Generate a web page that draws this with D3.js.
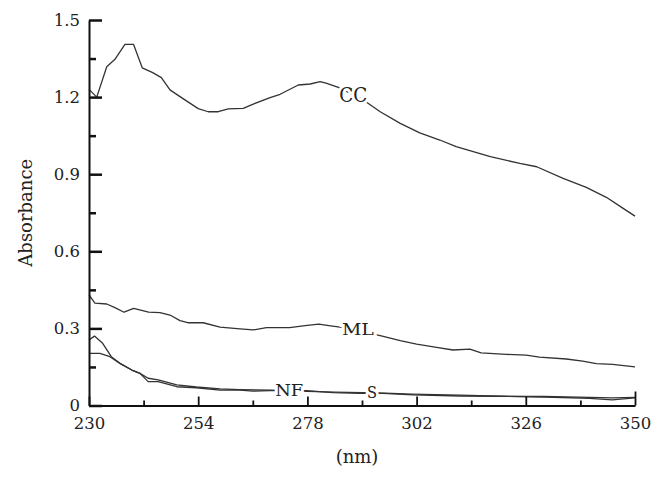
<!DOCTYPE html>
<html>
<head>
    <meta charset="utf-8">
    <title>Absorbance</title>
    <script src="https://d3js.org/d3.v7.min.js"></script>
    <style>
        body { margin: 0; background: #fff; }
        svg { display: block; }
        .axis text { font-family: "DejaVu Serif", serif; font-size: 16.5px; fill: #222; }
        .axis path, .axis line { stroke: #111; }
        .curve { fill: none; stroke: #333; stroke-width: 1.3px; stroke-linejoin: round; }
        .curve-label { font-family: "DejaVu Serif", serif; fill: #222; stroke: #fff; stroke-width: 6px; paint-order: stroke; }
        .axis-title { font-family: "DejaVu Serif", serif; font-size: 18px; fill: #222; }
    </style>
</head>
<body>
<div id="chart"></div>
<script>
    // values (nm, absorbance)
    const ccNm  = [230, 231.7, 233.9, 235.7, 237.9, 239.8, 241.7, 244, 245.9, 247.8, 250, 254, 256.2, 258.4, 260.6, 263.9, 266.1, 269.8, 272, 276, 278.6, 280.8, 282.1, 284.8, 290.3, 294, 298.4, 302.7, 307.1, 310.7, 318.2, 324.7, 328.4, 334.2, 339.3, 343.7, 347.4, 350];
    const ccAbs = [1.23, 1.2, 1.318, 1.347, 1.405, 1.405, 1.314, 1.295, 1.276, 1.228, 1.202, 1.155, 1.143, 1.143, 1.154, 1.156, 1.173, 1.198, 1.211, 1.247, 1.251, 1.26, 1.254, 1.238, 1.189, 1.143, 1.098, 1.061, 1.033, 1.007, 0.968, 0.942, 0.929, 0.884, 0.849, 0.81, 0.767, 0.737];

    const mlNm  = [230, 231.3, 233.9, 235.7, 237.7, 239.8, 243.1, 245.6, 247.8, 250, 251.7, 255.1, 258.8, 263.2, 266.1, 269, 274.1, 277.5, 280.5, 282.7, 285.6, 294, 298.4, 302, 306.4, 310, 313.7, 316.2, 321.7, 326.1, 329, 334.9, 338.5, 341.5, 345.1, 350];
    const mlAbs = [0.43, 0.398, 0.395, 0.381, 0.363, 0.378, 0.363, 0.361, 0.352, 0.33, 0.322, 0.322, 0.305, 0.298, 0.294, 0.303, 0.303, 0.311, 0.317, 0.311, 0.304, 0.272, 0.252, 0.239, 0.226, 0.216, 0.219, 0.205, 0.199, 0.196, 0.188, 0.181, 0.173, 0.163, 0.16, 0.15];

    const nfNm  = [230, 231.2, 233, 234.9, 236.8, 239.4, 241.2, 243, 245.2, 249.3, 253.6, 258.8, 263.2, 266, 269.8, 277.8, 283.6, 289.6, 294.6, 301.2, 311.5, 320, 330, 340, 345, 350];
    const nfAbs = [0.255, 0.27, 0.242, 0.19, 0.164, 0.138, 0.125, 0.093, 0.093, 0.073, 0.069, 0.06, 0.06, 0.056, 0.058, 0.058, 0.05, 0.047, 0.047, 0.041, 0.037, 0.036, 0.033, 0.028, 0.022, 0.03];

    const sNm  = [230, 232.4, 234.6, 236.8, 239.4, 241.2, 243, 245.2, 249.3, 253.6, 258.8, 263.2, 270, 278, 284, 290, 295, 301, 311.5, 320, 330, 340, 345, 350];
    const sAbs = [0.203, 0.203, 0.19, 0.164, 0.138, 0.125, 0.106, 0.1, 0.08, 0.072, 0.065, 0.062, 0.06, 0.055, 0.052, 0.05, 0.048, 0.044, 0.04, 0.036, 0.035, 0.032, 0.03, 0.032];

    // curve labels: name, position (nm, absorbance of baseline)
    const labelNames = ["CC", "ML", "NF", "S"];
    const labelNm    = [288.1, 289.1, 274, 292.2];
    const labelAbs   = [1.181, 0.274, 0.037, 0.029];

    const xMajor = [230, 254, 278, 302, 326, 350];
    const xMinor = [242, 266, 290, 314, 338];
    const yMajor = [0, 0.3, 0.6, 0.9, 1.2, 1.5];
    const yMinor = [0.15, 0.45, 0.75, 1.05, 1.35];

    const width = 666, height = 482;
    const margin = {top: 20, right: 31, bottom: 76.5, left: 89};

    const svg = d3.select("#chart").append("svg")
        .attr("width", width)
        .attr("height", height);

    const x = d3.scaleLinear().domain([230, 350]).range([margin.left, width - margin.right]);
    const y = d3.scaleLinear().domain([0, 1.5]).range([height - margin.bottom, margin.top]);

    const line = d3.line().x(d => x(d[0])).y(d => y(d[1]));

    const series = [
        d3.zip(ccNm, ccAbs),
        d3.zip(mlNm, mlAbs),
        d3.zip(nfNm, nfAbs),
        d3.zip(sNm, sAbs)
    ];

    svg.selectAll("path.curve")
        .data(series)
        .join("path")
        .attr("class", "curve")
        .attr("d", line);

    // labels sit on the curves with a white halo breaking the line
    const labelSize = {CC: 20, ML: 17, NF: 17, S: 17};
    const labelLen = {CC: 28, ML: 32, NF: 28, S: 10};
    svg.selectAll("text.curve-label")
        .data(labelNames.map((n, i) => ({name: n, nm: labelNm[i], v: labelAbs[i]})))
        .join("text")
        .attr("class", "curve-label")
        .attr("x", d => x(d.nm))
        .attr("y", d => y(d.v))
        .attr("text-anchor", "middle")
        .attr("font-size", d => labelSize[d.name] + "px")
        .attr("textLength", d => labelLen[d.name])
        .attr("lengthAdjust", "spacingAndGlyphs")
        .text(d => d.name);

    // y axis: ticks pointing inward
    const yAxis = svg.append("g")
        .attr("class", "axis")
        .attr("transform", `translate(${margin.left},0)`)
        .call(d3.axisLeft(y).tickValues(yMajor).tickSize(-13).tickSizeOuter(0).tickPadding(9)
            .tickFormat(d => d === 0 ? "0" : d3.format(".1f")(d)));
    yAxis.selectAll(".tick line").attr("stroke-width", 2.5);
    yAxis.select(".domain").attr("stroke-width", 2);

    svg.append("g")
        .attr("class", "axis")
        .attr("transform", `translate(${margin.left},0)`)
        .call(d3.axisLeft(y).tickValues(yMinor).tickSize(-7).tickFormat(""))
        .call(g => g.select(".domain").remove())
        .selectAll(".tick line").attr("stroke-width", 2.5);

    // x axis
    const xAxis = svg.append("g")
        .attr("class", "axis")
        .attr("transform", `translate(0,${height - margin.bottom})`)
        .call(d3.axisBottom(x).tickValues(xMajor).tickSize(-9).tickSizeOuter(0).tickPadding(12));
    xAxis.selectAll(".tick line").attr("stroke-width", 1.8);
    xAxis.selectAll(".tick").filter(d => d === 350).select("line").attr("y2", -14);
    xAxis.selectAll(".tick text").attr("dy", "0.72em").attr("y", 12);
    xAxis.select(".domain").attr("stroke-width", 2);

    svg.append("g")
        .attr("class", "axis")
        .attr("transform", `translate(0,${height - margin.bottom})`)
        .call(d3.axisBottom(x).tickValues(xMinor).tickSize(-5).tickFormat(""))
        .call(g => g.select(".domain").remove())
        .selectAll(".tick line").attr("stroke-width", 1.8);

    // axis titles
    svg.append("text")
        .attr("class", "axis-title")
        .attr("text-anchor", "middle")
        .attr("x", 357)
        .attr("y", 463)
        .text("(nm)");

    svg.append("text")
        .attr("class", "axis-title")
        .attr("text-anchor", "middle")
        .attr("transform", `translate(32,${(margin.top + height - margin.bottom) / 2}) rotate(-90)`)
        .text("Absorbance");
</script>
</body>
</html>
